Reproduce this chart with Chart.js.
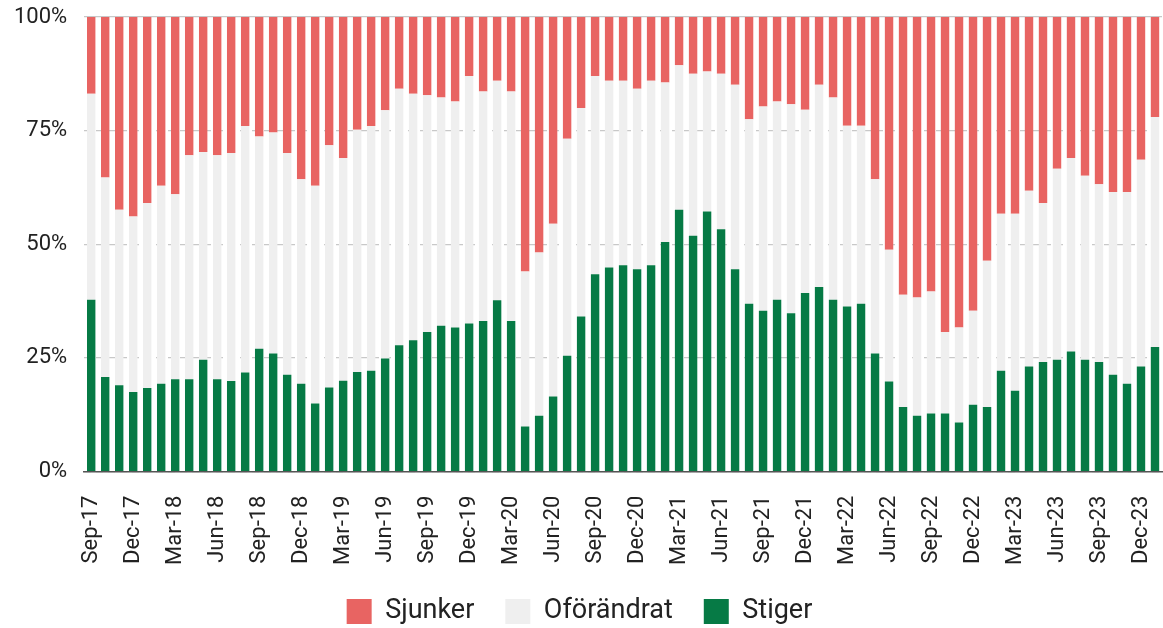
<!DOCTYPE html>
<html>
<head>
<meta charset="utf-8">
<script src="https://cdn.jsdelivr.net/npm/chart.js@4/dist/chart.umd.min.js"></script>
<style>
  html, body { margin: 0; padding: 0; background: #fff; }
  #wrap { width: 1163px; height: 628px; }
</style>
</head>
<body>
<div id="wrap"><canvas id="chart"></canvas></div>
<script>
const months = [
  "Sep-17", "Oct-17", "Nov-17", "Dec-17", "Jan-18", "Feb-18", "Mar-18", "Apr-18", "May-18", "Jun-18", "Jul-18", "Aug-18",
  "Sep-18", "Oct-18", "Nov-18", "Dec-18", "Jan-19", "Feb-19", "Mar-19", "Apr-19", "May-19", "Jun-19", "Jul-19", "Aug-19",
  "Sep-19", "Oct-19", "Nov-19", "Dec-19", "Jan-20", "Feb-20", "Mar-20", "Apr-20", "May-20", "Jun-20", "Jul-20", "Aug-20",
  "Sep-20", "Oct-20", "Nov-20", "Dec-20", "Jan-21", "Feb-21", "Mar-21", "Apr-21", "May-21", "Jun-21", "Jul-21", "Aug-21",
  "Sep-21", "Oct-21", "Nov-21", "Dec-21", "Jan-22", "Feb-22", "Mar-22", "Apr-22", "May-22", "Jun-22", "Jul-22", "Aug-22",
  "Sep-22", "Oct-22", "Nov-22", "Dec-22", "Jan-23", "Feb-23", "Mar-23", "Apr-23", "May-23", "Jun-23", "Jul-23", "Aug-23",
  "Sep-23", "Oct-23", "Nov-23", "Dec-23", "Jan-24"
];

// andel (%) per månad
const stiger = [
  37.8, 20.8, 19.0, 17.5, 18.4, 19.3, 20.3, 20.3, 24.6, 20.3, 19.9, 21.8,
  27.0, 26.0, 21.3, 19.3, 15.0, 18.5, 20.0, 21.9, 22.2, 24.9, 27.8, 28.9,
  30.7, 32.1, 31.7, 32.6, 33.1, 37.7, 33.1, 9.9, 12.3, 16.5, 25.5, 34.1,
  43.4, 44.9, 45.4, 44.5, 45.4, 50.5, 57.6, 51.9, 57.2, 53.3, 44.5, 36.9,
  35.4, 37.8, 34.8, 39.3, 40.6, 37.8, 36.3, 36.9, 26.0, 19.8, 14.2, 12.3,
  12.8, 12.8, 10.8, 14.7, 14.2, 22.2, 17.8, 23.1, 24.1, 24.6, 26.4, 24.6,
  24.1, 21.3, 19.3, 23.1, 27.4
];
const oforandrat = [
  45.3, 43.9, 38.6, 38.6, 40.7, 43.6, 40.7, 49.3, 45.7, 49.3, 50.2, 54.2,
  46.7, 48.6, 48.8, 45.0, 47.9, 53.3, 49.0, 53.3, 53.8, 54.6, 56.4, 54.2,
  52.1, 50.2, 49.7, 54.4, 50.5, 48.3, 50.5, 34.1, 35.9, 38.0, 47.7, 45.9,
  43.6, 41.1, 40.6, 39.7, 40.6, 35.1, 31.8, 35.6, 30.8, 34.2, 40.6, 40.6,
  44.9, 43.6, 46.0, 40.3, 44.5, 44.5, 39.8, 39.2, 38.3, 29.0, 24.7, 26.0,
  26.8, 17.9, 20.9, 20.7, 32.2, 34.5, 38.9, 38.7, 35.0, 42.0, 42.6, 40.5,
  39.1, 40.2, 42.2, 45.5, 50.6
];
const sjunker = [
  16.9, 35.3, 42.4, 43.9, 40.9, 37.1, 39.0, 30.4, 29.7, 30.4, 29.9, 24.0,
  26.3, 25.4, 29.9, 35.7, 37.1, 28.2, 31.0, 24.8, 24.0, 20.5, 15.8, 16.9,
  17.2, 17.7, 18.6, 13.0, 16.4, 14.0, 16.4, 56.0, 51.8, 45.5, 26.8, 20.0,
  13.0, 14.0, 14.0, 15.8, 14.0, 14.4, 10.6, 12.5, 12.0, 12.5, 14.9, 22.5,
  19.7, 18.6, 19.2, 20.4, 14.9, 17.7, 23.9, 23.9, 35.7, 51.2, 61.1, 61.7,
  60.4, 69.3, 68.3, 64.6, 53.6, 43.3, 43.3, 38.2, 40.9, 33.4, 31.0, 34.9,
  36.8, 38.5, 38.5, 31.4, 22.0
];
const yTicks = [0, 25, 50, 75, 100];

const font = "Roboto, 'Noto Sans', sans-serif";

new Chart(document.getElementById("chart"), {
  type: "bar",
  data: {
    labels: months,
    datasets: [
      { label: "Stiger", data: stiger, backgroundColor: "#067a45" },
      { label: "Oförändrat", data: oforandrat, backgroundColor: "#efefef" },
      { label: "Sjunker", data: sjunker, backgroundColor: "#e86462" },
    ],
  },
  options: {
    responsive: true,
    maintainAspectRatio: false,
    animation: false,
    datasets: { bar: { barPercentage: 0.6, categoryPercentage: 1 } },
    layout: { padding: { top: 0, right: 1, left: -3, bottom: -7 } },
    plugins: {
      tooltip: { enabled: false },
      legend: {
        position: "bottom",
        reverse: true,
        labels: {
          font: { family: font, size: 27 },
          color: "#222",
          boxWidth: 25,
          boxHeight: 25,
          padding: 31,
        },
      },
    },
    scales: {
      x: {
        stacked: true,
        grid: { display: false },
        border: { color: "#555", width: 1.5 },
        afterFit: (axis) => {
          axis.height -= 14;
          axis.paddingLeft = 0;
          axis.paddingRight = 0;
        },
        ticks: {
          autoSkip: false,
          maxRotation: 90,
          minRotation: 90,
          padding: 16,
          color: "#222",
          font: { family: font, size: 22 },
          callback: (v, i) => (i % 3 === 0 ? months[i] : null),
        },
      },
      y: {
        stacked: true,
        min: 0,
        max: 100,
        afterBuildTicks: (axis) => { axis.ticks = yTicks.map(v => ({ value: v })); },
        afterFit: (axis) => {
          axis.paddingTop = 17;
          axis.paddingBottom = 0;
        },
        grid: { color: "#c8c8c8", lineWidth: 1.2, drawTicks: false },
        border: { display: false, dash: (ctx) => (ctx.tick && ctx.tick.value === 100 ? [] : [7, 5]) },
        ticks: {
          padding: 17,
          color: "#222",
          font: { family: font, size: 22 },
          callback: (v) => v + "%",
        },
      },
    },
  },
});
</script>
</body>
</html>
